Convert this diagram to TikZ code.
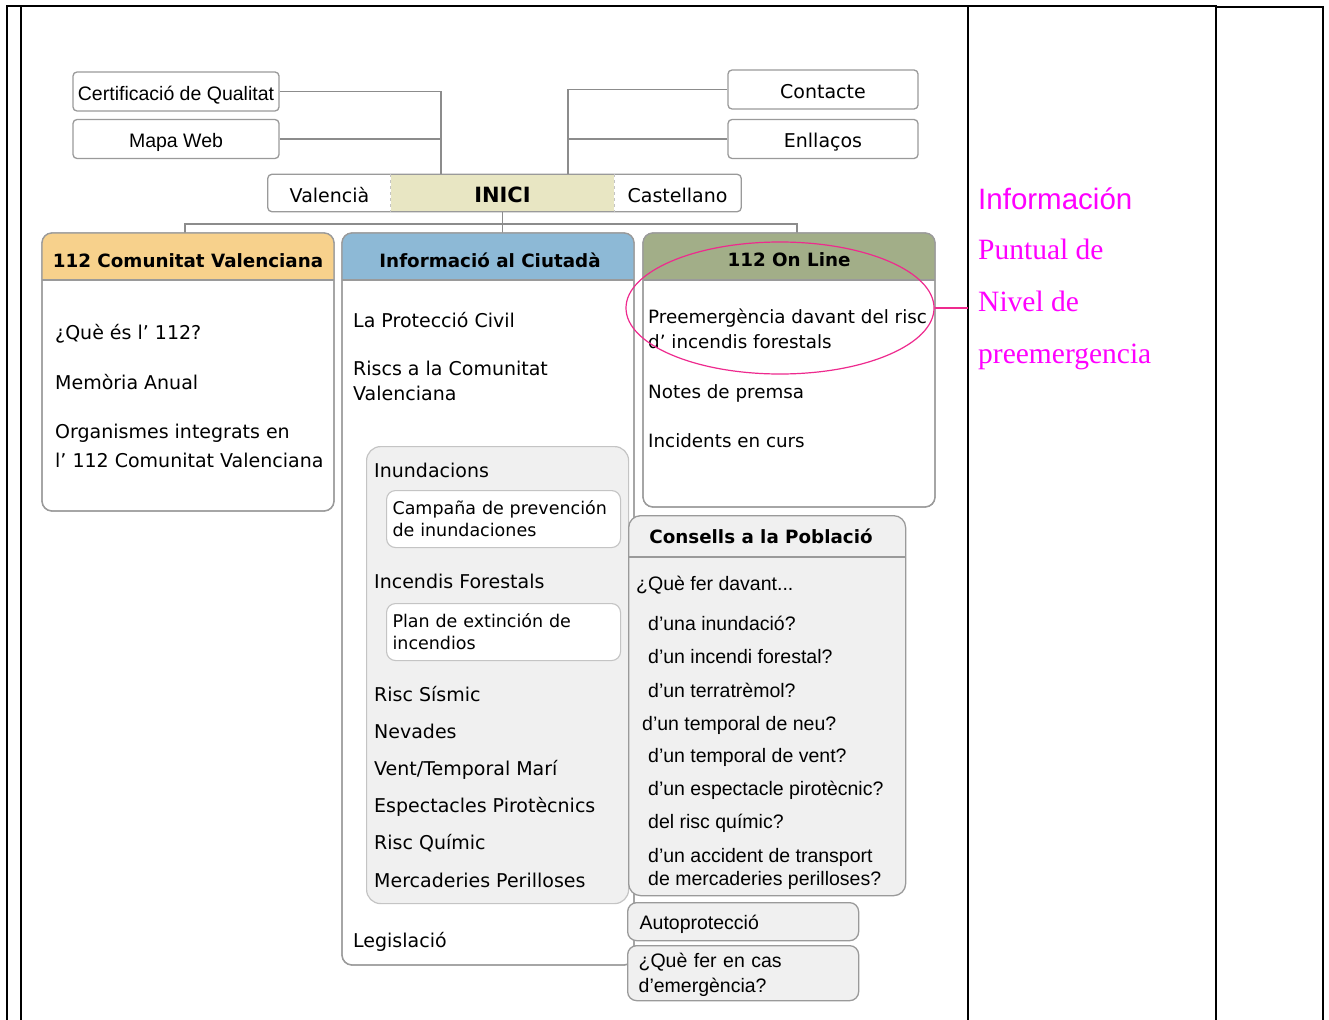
\documentclass[tikz,border=0pt]{standalone}
\usepackage{fontspec}
\setmainfont{DejaVu Sans}
\newfontfamily\wfont{DejaVu Sans}
\newfontfamily\nfont{Liberation Sans}
\newfontfamily\timesf{Liberation Serif}
\usetikzlibrary{shapes.geometric}

\definecolor{boxgray}{HTML}{9A9A9A}
\definecolor{conngray}{HTML}{8C8C8C}
\definecolor{panelgray}{HTML}{C4C4C4}
\definecolor{panel}{HTML}{F0F0F0}
\definecolor{hdorange}{HTML}{F7D18C}
\definecolor{hdblue}{HTML}{8DB9D6}
\definecolor{hdgreen}{HTML}{A2AE88}
\definecolor{beige}{HTML}{E8E6C3}
\definecolor{pinkln}{HTML}{EE2A8E}
\definecolor{magtext}{HTML}{FF00FF}

\newcommand\itemf{\wfont\fontsize{19}{22}\selectfont}
\newcommand\smallitemf{\wfont\fontsize{18.3}{22}\selectfont}
\newcommand\subf{\wfont\fontsize{17.5}{22}\selectfont}
\newcommand\nitemf{\nfont\fontsize{19.5}{25}\selectfont}
\newcommand\headf{\wfont\bfseries\fontsize{18.3}{22}\selectfont}
\newcommand\inicif{\wfont\bfseries\fontsize{21}{24}\selectfont}

\tikzset{
  tbl/.style={line width=2.6pt, black},
  boxln/.style={draw=boxgray, line width=1.3pt},
  conn/.style={draw=conngray, line width=1.4pt},
  sepln/.style={draw=panelgray, line width=1pt, dashed},
  linkbox/.style={boxln, fill=white, rounded corners=4pt, minimum width=206pt,
    minimum height=39pt, inner sep=0pt, text height=18pt, text depth=0pt},
  barpart/.style={minimum height=37pt, inner sep=0pt, text height=18pt, text depth=0pt},
  wtxt/.style={font=\itemf, anchor=base west, inner sep=0pt},
  ntxt/.style={font=\nitemf, anchor=base west, inner sep=0pt},
  hdtxt/.style={font=\headf, anchor=base, inner sep=0pt},
  panelbox/.style={draw=panelgray, fill=panel, line width=1.2pt, rounded corners=14pt,
    anchor=north west, inner sep=0pt},
  subbox/.style={draw=panelgray, fill=white, line width=1.1pt, rounded corners=9pt,
    anchor=north west, align=left, text width=222pt, inner xsep=6pt, inner ysep=0pt,
    minimum height=57pt, font=\subf, text height=17pt, text depth=27pt},
  greybox/.style={boxln, fill=panel, rounded corners=9pt, anchor=north west,
    align=left, inner xsep=12pt, inner ysep=0pt, font=\nitemf},
  ringln/.style={draw=pinkln, ellipse, line width=1.2pt, inner sep=0pt},
  magtxt/.style={text=magtext, anchor=base west, inner sep=0pt}
}

\begin{document}
\begin{tikzpicture}[x=1pt,y=-1pt]
  \useasboundingbox (0,0) rectangle (1329,1019);

  % table frame
  \draw[tbl] (7,1022) -- (7,6) -- (1217.3,6);
  \draw[tbl] (21,6) -- (21,1022);
  \draw[tbl] (968,6) -- (968,1022);
  \draw[tbl] (1216,6) -- (1216,1022);
  \draw[tbl] (1216,7) -- (1323,7) -- (1323,1022);

  % top links
  \node[linkbox, font=\nitemf] (cert) at (176,91.5) {Certificació de Qualitat};
  \node[linkbox, font=\nitemf] (mapa) at (176,139) {Mapa Web};
  \node[linkbox, font=\itemf, minimum width=190pt] (contacte) at (823,89.5) {Contacte};
  \node[linkbox, font=\itemf, minimum width=190pt] (enllac) at (823,139) {Enllaços};

  % language bar
  \node[barpart, minimum width=123pt, font=\itemf] (valencia) at (329.5,193) {Valencià};
  \node[barpart, minimum width=223pt, fill=beige, font=\inicif] (inici) at (502.5,193) {INICI};
  \node[barpart, minimum width=127pt, font=\itemf] (castellano) at (677.5,193) {Castellano};
  \draw[boxln, rounded corners=4pt] (valencia.north west) rectangle (castellano.south east);
  \draw[sepln] (inici.north west) -- (inici.south west);
  \draw[sepln] (inici.north east) -- (inici.south east);

  \coordinate (jL) at (441,174.5);
  \coordinate (jR) at (568,174.5);
  \draw[conn] (cert.east) -| (jL);
  \draw[conn] (mapa.east) -- (mapa.east -| jL);
  \draw[conn] (contacte.west) -| (jR);
  \draw[conn] (enllac.west) -- (enllac.west -| jR);

  \coordinate (dropA) at (185,233);
  \coordinate (dropC) at (797,233);
  \draw[conn] (dropA) -- ++(0,-9) -| (dropC);
  \draw[conn] (inici.south) -- (inici.south |- dropA);

  % three columns
  \foreach \l/\r/\b/\hc in {42/334/511/hdorange, 342/634/965/hdblue, 643/935/507/hdgreen}{
    \draw[boxln, fill=white, rounded corners=10pt] (\l,233) rectangle (\r,\b);
    \begin{scope}
      \clip[rounded corners=10pt] (\l,233) rectangle (\r,\b);
      \fill[\hc] (\l,233) rectangle (\r,280);
    \end{scope}
    \draw[boxln, rounded corners=10pt] (\l,233) rectangle (\r,\b);
    \draw[boxln] (\l,280) -- (\r,280);
  }
  \node[hdtxt] (hdA) at (188,267) {112 Comunitat Valenciana};
  \node[hdtxt] (hdB) at (490,267) {Informació al Ciutadà};
  \node[hdtxt] (hdC) at (789,266) {112 On Line};

  \foreach \yy/\txt [count=\i] in {339/{¿Què és l’ 112?}, 389/{Memòria Anual},
      438/{Organismes integrats en}, 467/{l’ 112 Comunitat Valenciana}}
    \node[wtxt] (cv\i) at (55,\yy) {\txt};

  \foreach \yy/\txt [count=\i] in {327/{La Protecció Civil}, 375/{Riscs a la Comunitat},
      400/{Valenciana}, 947/{Legislació}}
    \node[wtxt] (ic\i) at (353,\yy) {\txt};

  \foreach \yy/\txt [count=\i] in {323/{Preemergència davant del risc},
      348/{d’ incendis forestals}, 398/{Notes de premsa}, 447/{Incidents en curs}}
    \node[wtxt, font=\smallitemf] (ol\i) at (648,\yy) {\txt};

  % risks panel
  \node[panelbox, minimum width=262pt, minimum height=457pt] (riscs) at (366,446) {};
  \node[subbox] (campanya) at (386,490) {Campaña de prevención\\de inundaciones};
  \node[subbox] (plan) at (386,603) {Plan de extinción de\\incendios};
  \foreach \yy/\txt [count=\i] in {477/{Inundacions}, 588/{Incendis Forestals},
      701/{Risc Sísmic}, 738/{Nevades}, 775/{Vent/Temporal Marí},
      812/{Espectacles Pirotècnics}, 849/{Risc Químic}, 887/{Mercaderies Perilloses}}
    \node[wtxt] (rs\i) at (374,\yy) {\txt};

  % advice box
  \node[boxln, fill=panel, rounded corners=12pt, anchor=north west, inner sep=0pt,
    minimum width=277pt, minimum height=380pt] (cons) at (628,515) {};
  \draw[boxln] ([yshift=-42pt]cons.north west) -- ([yshift=-42pt]cons.north east);
  \node[hdtxt] (hdD) at (761,543) {Consells a la Població};
  \node[ntxt] (cs0) at (636,590) {¿Què fer davant...};
  \foreach \xx/\yy/\txt [count=\i] in {648/630/{d’una inundació?},
      648/663/{d’un incendi forestal?}, 648/697/{d’un terratrèmol?},
      642/730/{d’un temporal de neu?}, 648/762/{d’un temporal de vent?},
      648/795/{d’un espectacle pirotècnic?}, 648/828/{del risc químic?},
      648/862/{d’un accident de transport}, 648/885/{de mercaderies perilloses?}}
    \node[ntxt] (cs\i) at (\xx,\yy) {\txt};

  \node[greybox, text width=207pt, minimum height=38pt, text height=17pt,
    text depth=2pt] (autop) at (627,902) {Autoprotecció};
  \node[greybox, text width=209pt, minimum height=55pt, inner xsep=11pt, text height=19pt,
    text depth=30pt] (emerg) at (627,945) {¿Què fer en cas\\d’emergència?};

  % highlight
  \node[ringln, minimum width=308pt, minimum height=132pt] (ring) at (780,308) {};
  \coordinate (cellL) at (968,308);
  \draw[draw=pinkln, line width=1.2pt] (ring.east) -- (cellL);

  \node[magtxt, font=\nfont\fontsize{29.5}{32}\selectfont] (mag1) at (978,209) {Información};
  \node[magtxt, font=\timesf\fontsize{29.5}{32}\selectfont] (mag2) at (978,259) {Puntual de};
  \node[magtxt, font=\timesf\fontsize{29.5}{32}\selectfont] (mag3) at (978,311) {Nivel de};
  \node[magtxt, font=\timesf\fontsize{29.5}{32}\selectfont] (mag4) at (978,363) {preemergencia};
\end{tikzpicture}
\end{document}
